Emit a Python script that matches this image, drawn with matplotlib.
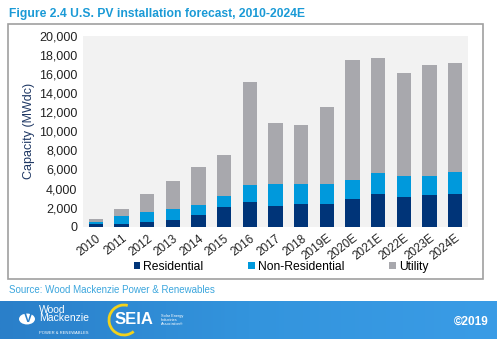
import numpy as np
import matplotlib.pyplot as plt
from matplotlib.patches import Rectangle, Circle, Arc

plt.rcParams['font.family'] = ['Liberation Sans', 'DejaVu Sans']

years = ['2010', '2011', '2012', '2013', '2014', '2015', '2016', '2017', '2018',
         '2019E', '2020E', '2021E', '2022E', '2023E', '2024E']
residential = [250, 290, 470, 740, 1230, 2100, 2560, 2200, 2350, 2410,
               2900, 3430, 3150, 3290, 3460]
non_residential = [270, 830, 1070, 1120, 1080, 1090, 1810, 2280, 2130, 2030,
                   1990, 2200, 2160, 2060, 2240]
utility = [290, 735, 1860, 2900, 3920, 4290, 10760, 6360, 6180, 8110,
           12580, 12020, 10800, 11630, 11490]

W, H = 497, 339
fig = plt.figure(figsize=(W / 100, H / 100), dpi=100)


def px(x, y):
    return x / W, 1 - y / H


# outer frame
fig.patches.append(Rectangle(px(8, 279), 475 / W, 255 / H, transform=fig.transFigure,
                             fill=False, edgecolor='#a0a0a0', linewidth=1.2))

# footer band with gradient
grad = np.linspace(0, 1, 256).reshape(1, -1)
fax = fig.add_axes([0, 0, 1, 38 / H])
fax.imshow(grad, aspect='auto', cmap=plt.matplotlib.colors.LinearSegmentedColormap.from_list(
    'band', ['#2a7fc9', '#3394dd', '#3a9ce6']), extent=[0, 1, 0, 1])
fax.set_xlim(0, 1)
fax.set_ylim(0, 1)
fax.axis('off')

# axes
x0, x1, y0, y1 = 83, 468, 226.7, 35.9
ax = fig.add_axes([x0 / W, 1 - y0 / H, (x1 - x0) / W, (y0 - y1) / H])
ax.set_facecolor('#f2f2f2')
x = np.arange(len(years))
res = np.array(residential)
nonres = np.array(non_residential)
util = np.array(utility)
bw = 0.56
ax.bar(x, res, bw, color='#003478', label='Residential', zorder=3)
ax.bar(x, nonres, bw, bottom=res, color='#0099dc', label='Non-Residential', zorder=3)
ax.bar(x, util, bw, bottom=res + nonres, color='#a8a8ad', label='Utility', zorder=3)

ax.set_xlim(-0.5, 14.5)
ax.set_ylim(0, 20000)
ax.set_yticks(np.arange(0, 20001, 2000))
ax.set_yticklabels([f'{v:,}' for v in range(0, 20001, 2000)], fontsize=9, color='#222222')
ax.set_xticks(x)
ax.set_xticklabels(years, rotation=38, ha='right', rotation_mode='anchor',
                   fontsize=8.5, color='#222222')
ax.tick_params(length=0, pad=4)
for s in ax.spines.values():
    s.set_visible(False)
ax.set_ylabel('Capacity (MWdc)', fontsize=9, color='#1f3864', labelpad=3)

ax.legend(loc='center', bbox_to_anchor=px(281, 267), bbox_transform=fig.transFigure,
          ncol=3, frameon=False, fontsize=8.7, handlelength=0.55, handleheight=0.55,
          handletextpad=0.25, columnspacing=3.7, borderpad=0)

# title and source
fig.text(9 / W, 1 - 14 / H, 'Figure 2.4 U.S. PV installation forecast, 2010-2024E',
         fontsize=8.7, fontweight='bold', color='#1a9ad6', va='center', ha='left')
fig.text(9 / W, 1 - 290 / H, 'Source: Wood Mackenzie Power & Renewables',
         fontsize=7, color='#3ca6dd', va='center', ha='left')

# footer logos
fig.patches.append(Circle(px(27, 319), 8 / W, transform=fig.transFigure,
                          facecolor='white', edgecolor='none'))
fig.text(28 / W, 1 - 319 / H, 'V', fontsize=9, fontweight='bold', color='#2a7fc9',
         ha='center', va='center')
fig.text(39 / W, 1 - 314 / H, 'Wood\nMackenzie', fontsize=7.5, color='white',
         ha='left', va='center', linespacing=0.85)
fig.text(39 / W, 1 - 333 / H, 'POWER & RENEWABLES', fontsize=3, color='white',
         ha='left', va='center')
fig.patches.append(Arc(px(124, 320), 30 / W, 30 / H, transform=fig.transFigure,
                       theta1=80, theta2=300, color='#f2d21b', linewidth=2))
fig.text(115 / W, 1 - 320 / H, 'SEIA', fontsize=12, fontweight='bold', color='white',
         ha='left', va='center')
fig.text(161 / W, 1 - 320 / H, 'Solar Energy\nIndustries\nAssociation®', fontsize=2.8,
         color='white', ha='left', va='center', linespacing=1.0)
fig.text(489 / W, 1 - 322 / H, '©2019', fontsize=8.5, fontweight='bold', color='white',
         ha='right', va='center')

fig.savefig('out.png', dpi=100)
